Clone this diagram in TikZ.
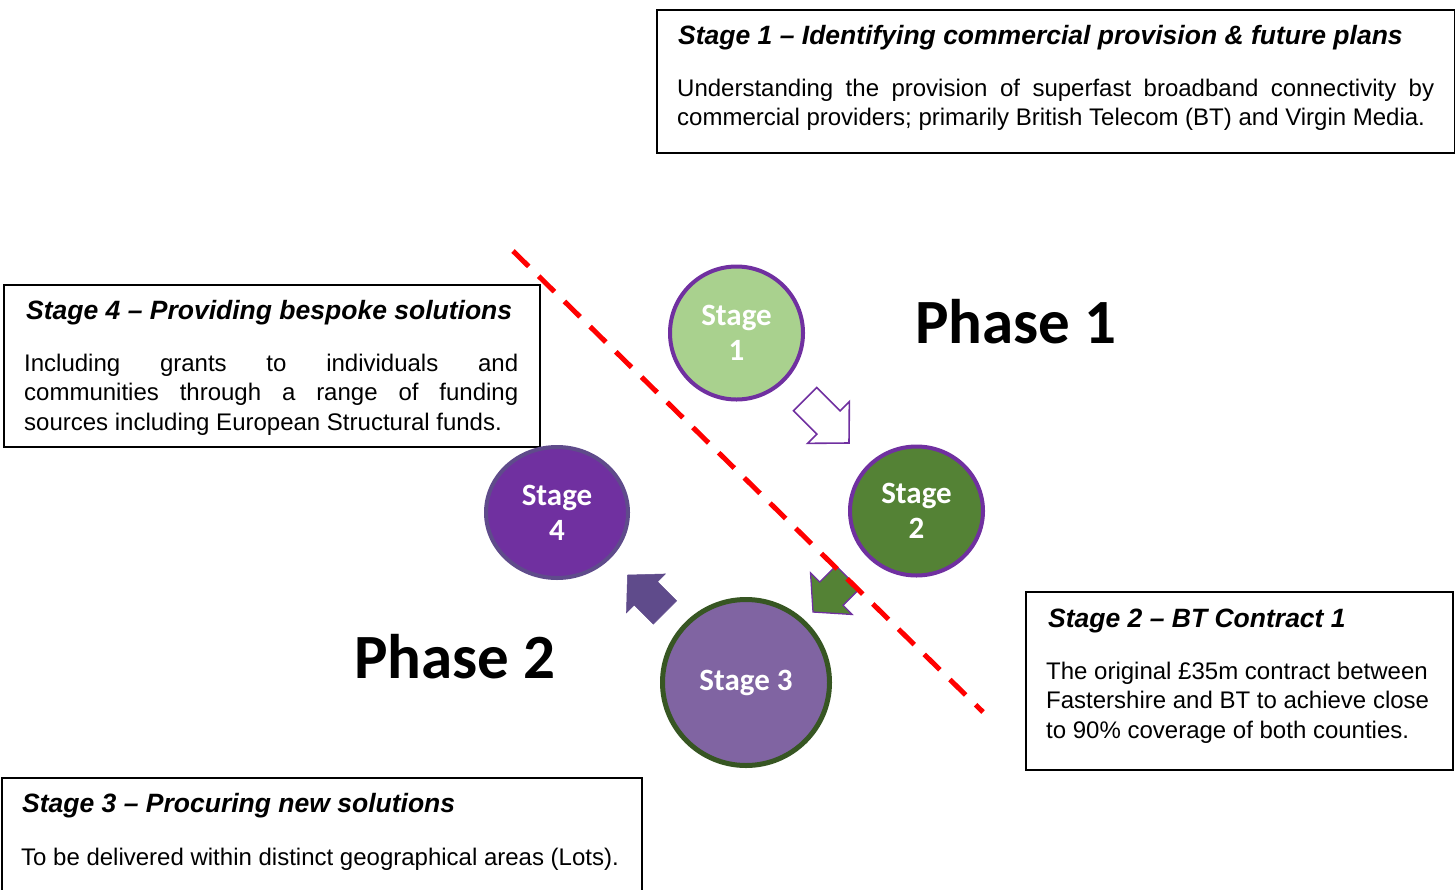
\documentclass[tikz,border=0pt]{standalone}
\usepackage{fontspec}
\setmainfont{Liberation Sans}
\newfontfamily\calfont{Carlito}
\usetikzlibrary{shapes.geometric}
\definecolor{lgreen}{HTML}{A9D18E}
\definecolor{dgreen}{HTML}{548235}
\definecolor{vpurple}{HTML}{7030A0}
\definecolor{gpurple}{HTML}{5F4B8B}
\definecolor{lpurple}{HTML}{8064A2}
\definecolor{ddgreen}{HTML}{375623}
\newcommand\titlefont{\fontsize{26.5}{30}\selectfont\bfseries\itshape}
\newcommand\bodyfont{\fontsize{24}{29.5}\selectfont}
\newcommand\circfont{\calfont\fontsize{31}{35}\selectfont\bfseries}
\newcommand\phasefont{\calfont\fontsize{63}{70}\selectfont\bfseries}
% block arrow: options, tip x, tip y, angle, length, head length, head width, shaft width
\newcommand\blockarrow[8]{%
  \draw[#1, shift={(#2,#3)}, rotate=#4]
    (0,0) -- (-#6,#7/2) -- (-#6,#8/2) -- (-#5,#8/2) -- (-#5,-#8/2)
    -- (-#6,-#8/2) -- (-#6,-#7/2) -- cycle;}
\begin{document}
\begin{tikzpicture}[x=1pt,y=-1pt,
  box/.style={draw=black, line width=1.8pt, inner sep=0, anchor=north west},
  ttl/.style={anchor=base west, inner sep=0, font=\titlefont},
  txt/.style={anchor=base west, inner sep=0, font=\bodyfont},
  stagecirc/.style={ellipse, inner sep=0, align=center, text=white, font=\circfont},
  phase/.style={anchor=base west, inner sep=0, font=\phasefont}]
\useasboundingbox (0,0) rectangle (1455,889);

% ---- boxes
\node[box, minimum width=798, minimum height=143] (box1) at (656,9) {};
\node[ttl] (t1) at (678,44) {Stage 1 – Identifying commercial provision \& future plans};
\node[txt] (b1a) at (677,96) {\makebox[757pt][s]{Understanding the provision of superfast broadband connectivity by}};
\node[txt] (b1b) at (677,125.5) {commercial providers; primarily British Telecom (BT) and Virgin Media.};

\node[box, minimum width=536, minimum height=162] (box4) at (3,284) {};
\node[ttl] (t4) at (26,319) {Stage 4 – Providing bespoke solutions};
\node[txt] (b4a) at (24,371) {\makebox[494pt][s]{Including grants to individuals and}};
\node[txt] (b4b) at (24,400.5) {\makebox[494pt][s]{communities through a range of funding}};
\node[txt] (b4c) at (24,430) {sources including European Structural funds.};

\node[box, minimum width=427, minimum height=178] (box2) at (1025,591) {};
\node[ttl] (t2) at (1048,627) {Stage 2 – BT Contract 1};
\node[txt] (b2a) at (1046,679) {The original £35m contract between};
\node[txt] (b2b) at (1046,708.5) {Fastershire and BT to achieve close};
\node[txt] (b2c) at (1046,738) {to 90\% coverage of both counties.};

\node[box, minimum width=640, minimum height=130] (box3) at (1,777) {};
\node[ttl] (t3) at (22,812) {Stage 3 – Procuring new solutions};
\node[txt] (b3a) at (21,865) {To be delivered within distinct geographical areas (Lots).};

% ---- circles
\node[stagecirc, fill=lgreen, draw=vpurple, line width=4pt, minimum width=133, minimum height=133] (s1) at (736.5,333) {Stage\\1};
\node[stagecirc, fill=dgreen, draw=vpurple, line width=4pt, minimum width=133, minimum height=129] (s2) at (916.5,511) {Stage\\2};
\node[stagecirc, fill=vpurple, draw=gpurple, line width=4pt, minimum width=142, minimum height=131] (s4) at (557,512.5) {Stage\\4};
\node[stagecirc, fill=lpurple, draw=ddgreen, line width=5pt, minimum width=167, minimum height=166] (s3) at (746,682.5) {Stage 3};

% ---- arrows
\blockarrow{fill=white, draw=vpurple, line width=1.6pt, line join=miter}{849}{443}{-45}{62}{29}{59}{33}
\blockarrow{fill=dgreen, draw=vpurple, line width=1.3pt, line join=miter}{813}{612}{-135}{49}{26}{59}{33}
\blockarrow{fill=gpurple, draw=gpurple, line width=0.5pt, line join=miter}{627.5}{575}{135}{53}{26}{55}{33}

% ---- phases
\node[phase] (p1) at (915,343) {Phase 1};
\node[phase] (p2) at (354,678) {Phase 2};

% ---- dashed divider
\coordinate (d1) at (513,251);
\coordinate (d2) at (983,712);
\draw[red, line width=5pt, dash pattern=on 22pt off 14pt] (d1) -- (d2);
\end{tikzpicture}
\end{document}
